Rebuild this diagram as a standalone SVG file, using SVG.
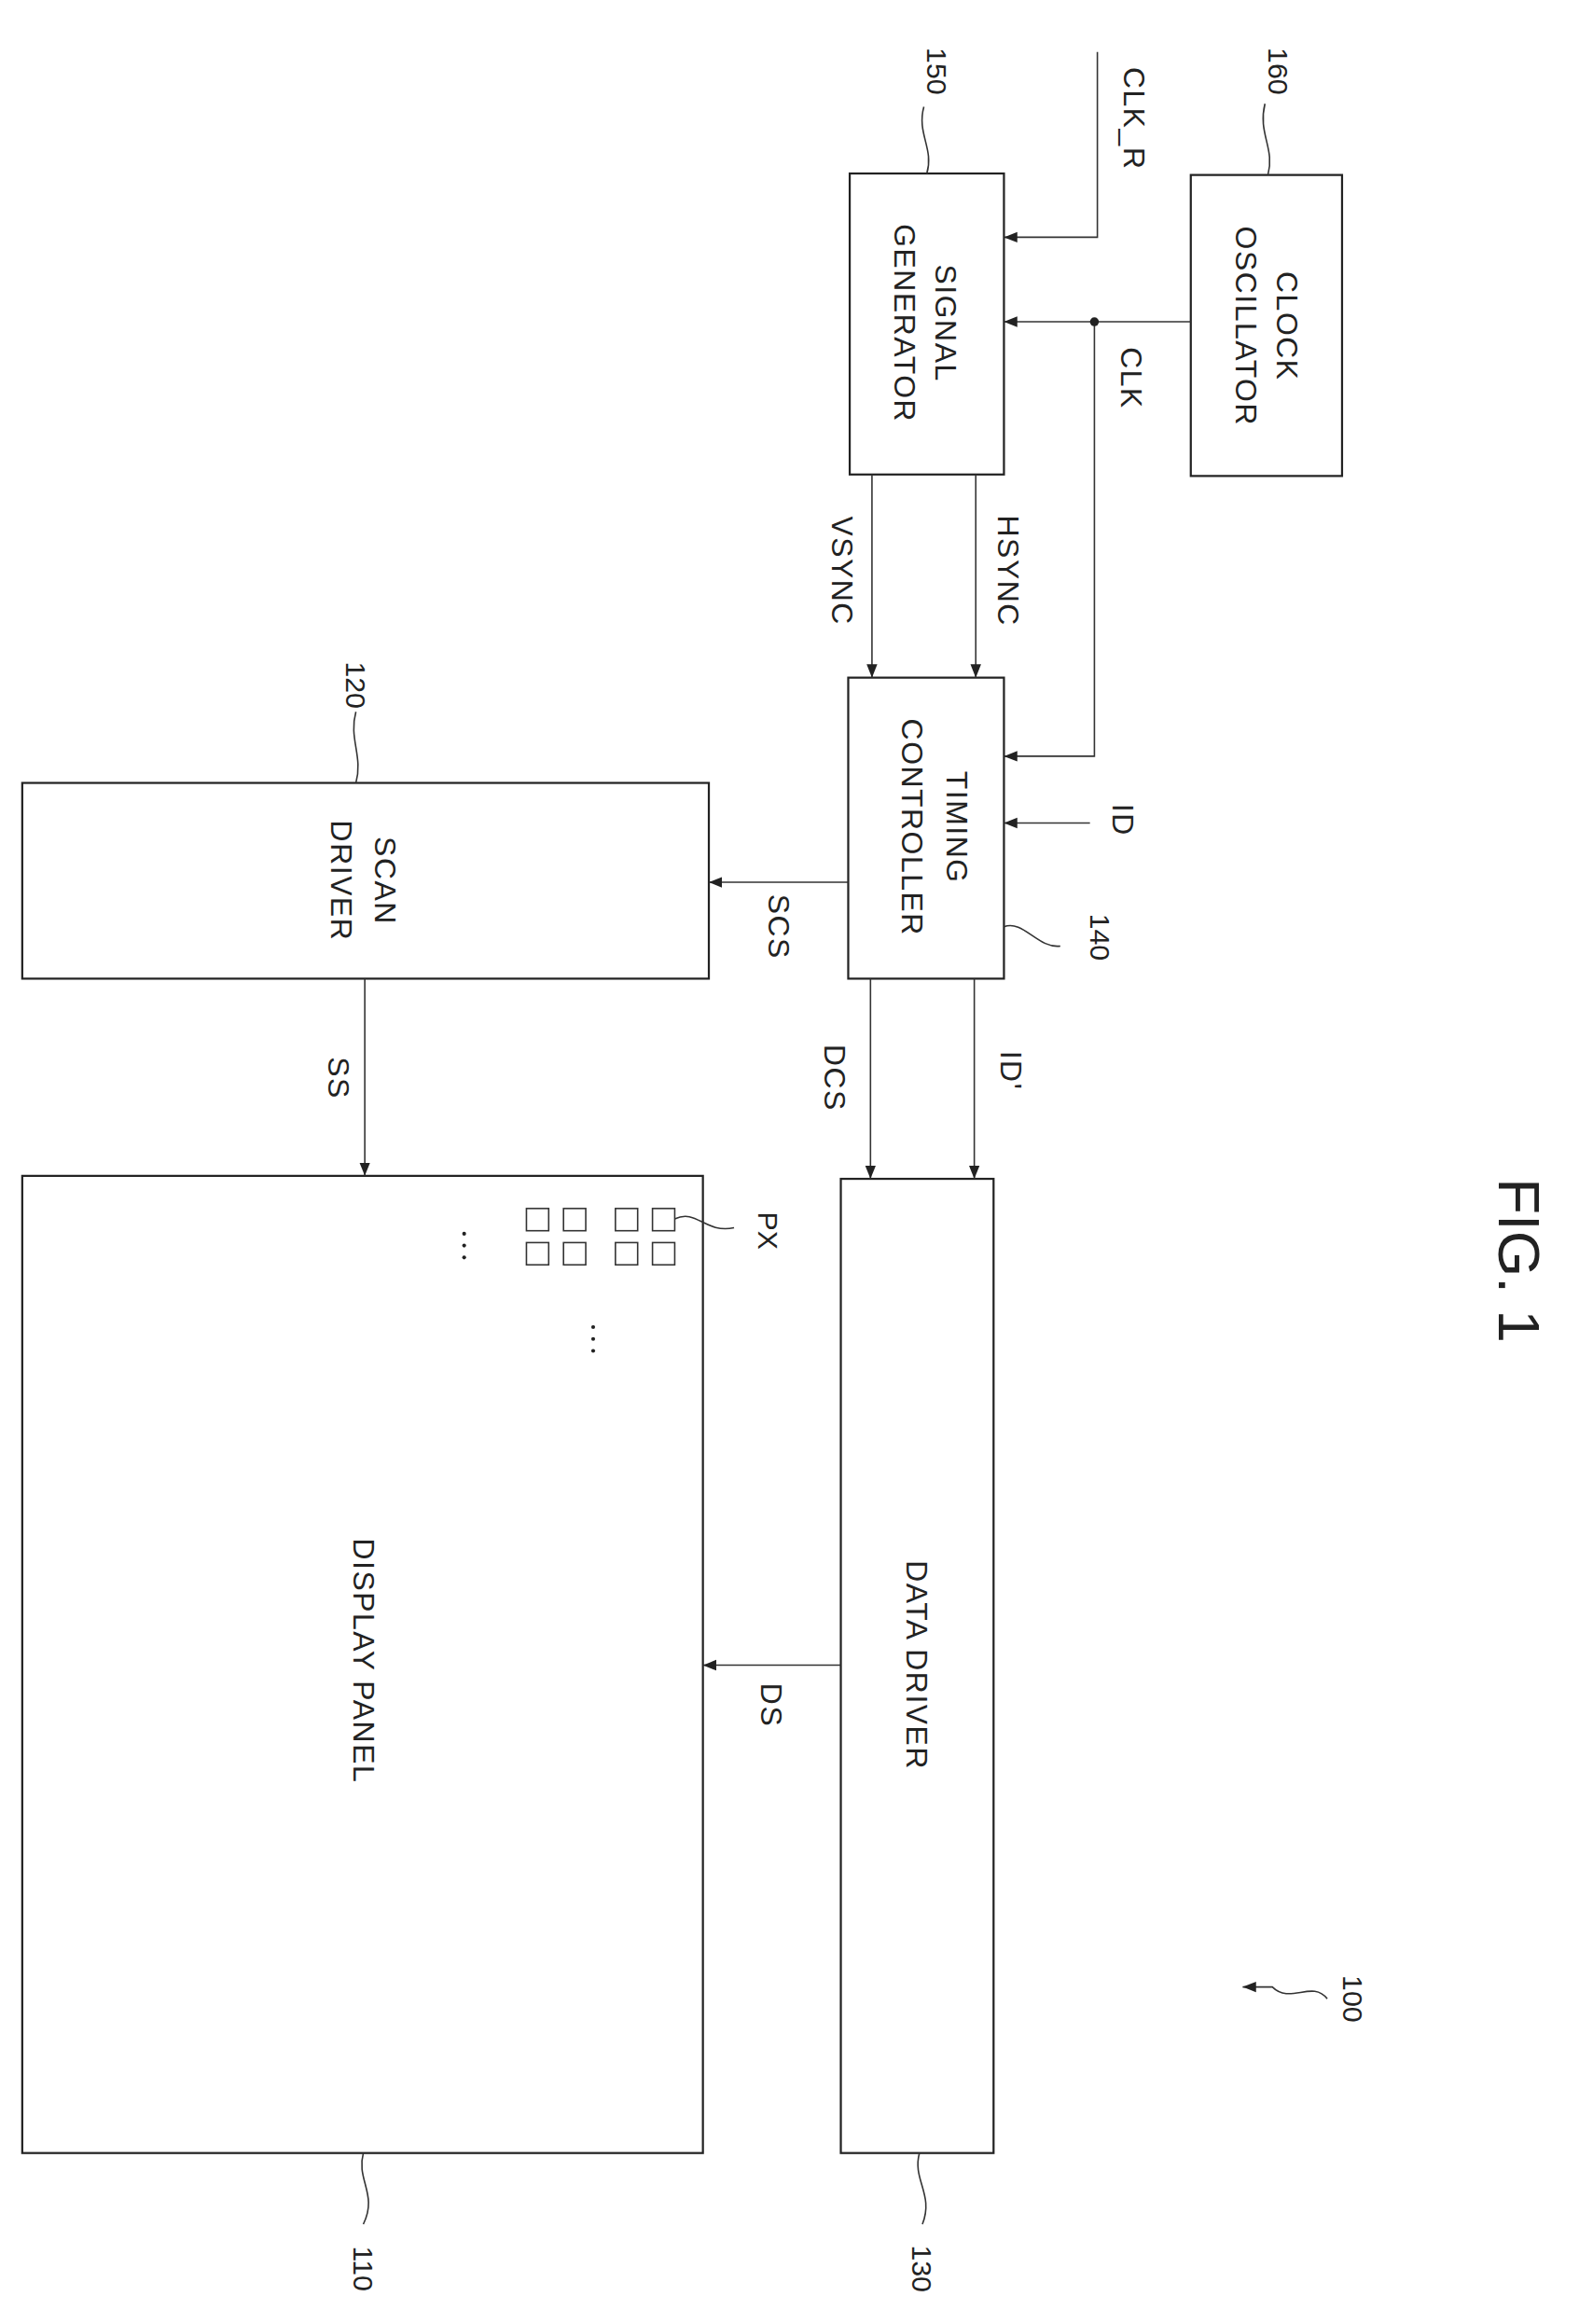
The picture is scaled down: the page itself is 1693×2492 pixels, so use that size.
<svg xmlns="http://www.w3.org/2000/svg" width="1693" height="2492" viewBox="0 0 1693 2492">
<style>
.b{fill:none;stroke:#222;stroke-width:1.4}
.w{fill:none;stroke:#333;stroke-width:1}
.t{font-family:"Liberation Sans",sans-serif;font-size:20px;fill:#222;text-anchor:middle;dominant-baseline:central;letter-spacing:1px}
.r{font-family:"Liberation Sans",sans-serif;font-size:19px;fill:#222;text-anchor:middle;dominant-baseline:central}
</style>
<defs><marker id="a" viewBox="0 0 10 10" refX="10" refY="5" markerWidth="9" markerHeight="9" markerUnits="userSpaceOnUse" orient="auto"><path d="M0,1 L10,5 L0,9 Z" fill="#222"/></marker></defs>
<rect width="1693" height="2492" fill="#fff"/>
<g transform="scale(1.59)">
<g id="n160"><rect class="b" x="803" y="118" width="102" height="203"/>
<text class="t" transform="translate(868,220) rotate(90)">CLOCK</text>
<text class="t" transform="translate(840,220) rotate(90)">OSCILLATOR</text>
<path class="w" d="M855,118 C860,100 848,90 853,70"/><text class="r" transform="translate(862,48) rotate(90)">160</text></g>
<g id="n150"><rect class="b" x="573" y="117" width="104" height="203"/>
<text class="t" transform="translate(638,218) rotate(90)">SIGNAL</text>
<text class="t" transform="translate(610,218) rotate(90)">GENERATOR</text>
<path class="w" d="M625,117 C630,100 618,90 623,72"/><text class="r" transform="translate(632,48) rotate(90)">150</text></g>
<g id="n140"><rect class="b" x="572" y="457" width="105" height="203"/>
<text class="t" transform="translate(645,558) rotate(90)">TIMING</text>
<text class="t" transform="translate(615,558) rotate(90)">CONTROLLER</text>
<path class="w" d="M677,625 C690,620 700,640 715,638"/><text class="r" transform="translate(742,632) rotate(90)">140</text></g>
<g id="n120"><rect class="b" x="15" y="528" width="463" height="132"/>
<text class="t" transform="translate(260,594) rotate(90)">SCAN</text>
<text class="t" transform="translate(230,594) rotate(90)">DRIVER</text>
<path class="w" d="M240,528 C245,510 235,498 240,480"/><text class="r" transform="translate(240,462) rotate(90)">120</text></g>
<g id="n130"><rect class="b" x="567" y="795" width="103" height="657"/>
<text class="t" transform="translate(618,1123) rotate(90)">DATA DRIVER</text>
<path class="w" d="M620,1452 C615,1470 630,1480 622,1500"/><text class="r" transform="translate(622,1530) rotate(90)">130</text></g>
<g id="n110"><rect class="b" x="15" y="793" width="459" height="659"/>
<text class="t" transform="translate(245,1120) rotate(90)">DISPLAY PANEL</text>
<path class="w" d="M245,1452 C240,1470 255,1480 245,1500"/><text class="r" transform="translate(245,1530) rotate(90)">110</text>
<g class="w"><rect x="440" y="815" width="15" height="15"/><rect x="415" y="815" width="15" height="15"/><rect x="440" y="838" width="15" height="15"/><rect x="415" y="838" width="15" height="15"/>
<rect x="380" y="815" width="15" height="15"/><rect x="355" y="815" width="15" height="15"/><rect x="380" y="838" width="15" height="15"/><rect x="355" y="838" width="15" height="15"/></g>
<g fill="#222"><circle cx="313" cy="832" r="1.3"/><circle cx="313" cy="840" r="1.3"/><circle cx="313" cy="848" r="1.3"/>
<circle cx="400" cy="895" r="1.3"/><circle cx="400" cy="903" r="1.3"/><circle cx="400" cy="911" r="1.3"/></g>
<path class="w" d="M455,822 C470,815 475,832 495,828"/><text class="r" transform="translate(518,830) rotate(90)">PX</text></g>
<g id="connectors" class="w" stroke-width="1.2">
<path d="M740,35 V160 H677" marker-end="url(#a)"/>
<path d="M803,217 H677" marker-end="url(#a)"/>
<path d="M738,217 V510 H677" marker-end="url(#a)"/>
<path d="M658,320 V457" marker-end="url(#a)"/>
<path d="M588,320 V457" marker-end="url(#a)"/>
<path d="M735,555 H677" marker-end="url(#a)"/>
<path d="M572,595 H478" marker-end="url(#a)"/>
<path d="M246,660 V793" marker-end="url(#a)"/>
<path d="M587,660 V795" marker-end="url(#a)"/>
<path d="M657,660 V795" marker-end="url(#a)"/>
<path d="M567,1123 H474" marker-end="url(#a)"/>
<circle cx="738" cy="217" r="3" fill="#222" stroke="none"/>
</g>
<g id="labels">
<text class="t" transform="translate(765,80) rotate(90)">CLK_R</text>
<text class="t" transform="translate(763,255) rotate(90)">CLK</text>
<text class="t" transform="translate(680,385) rotate(90)">HSYNC</text>
<text class="t" transform="translate(568,385) rotate(90)">VSYNC</text>
<text class="t" transform="translate(757,553) rotate(90)">ID</text>
<text class="t" transform="translate(525,625) rotate(90)">SCS</text>
<text class="t" transform="translate(228,727) rotate(90)">SS</text>
<text class="t" transform="translate(563,727) rotate(90)">DCS</text>
<text class="t" transform="translate(682,722) rotate(90)">ID'</text>
<text class="t" transform="translate(520,1150) rotate(90)">DS</text>
<text class="r" style="font-size:40px" transform="translate(1025,850) rotate(90)">FIG. 1</text>
<text class="r" transform="translate(912,1348) rotate(90)">100</text>
<path class="w" d="M895,1348 C885,1335 870,1352 858,1340 L838,1340" marker-end="url(#a)"/>
</g>
</g>
</svg>
